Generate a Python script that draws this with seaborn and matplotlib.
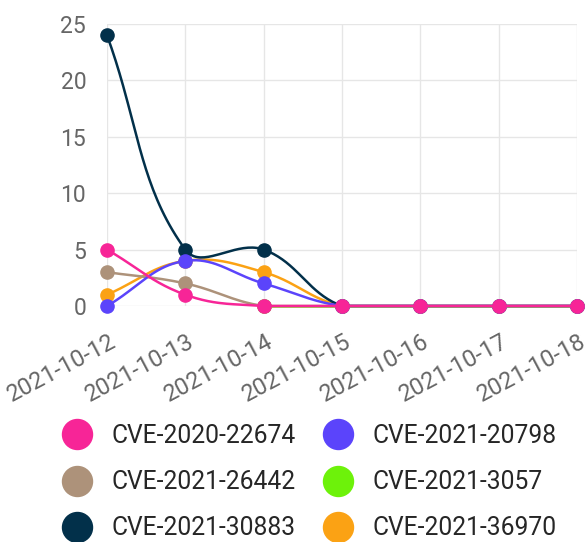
import numpy as np
import pandas as pd
import matplotlib
matplotlib.use("Agg")
import matplotlib.pyplot as plt
import matplotlib.transforms as mtransforms
from matplotlib.lines import Line2D
import seaborn as sns

dates = ["2021-10-12", "2021-10-13", "2021-10-14", "2021-10-15",
         "2021-10-16", "2021-10-17", "2021-10-18"]

nan = np.nan
cve_2020_22674 = [5, 1, 0, 0, 0, 0, 0]
cve_2021_20798 = [0, 4, 2, 0, 0, 0, 0]
cve_2021_26442 = [3, 2, 0, 0, 0, 0, 0]
cve_2021_3057 = [nan, nan, 0, 0, 0, 0, 0]
cve_2021_30883 = [24, 5, 5, 0, 0, 0, 0]
cve_2021_36970 = [1, 4, 3, 0, 0, 0, 0]

names = ["CVE-2020-22674", "CVE-2021-20798", "CVE-2021-26442",
         "CVE-2021-3057", "CVE-2021-30883", "CVE-2021-36970"]
values = [cve_2020_22674, cve_2021_20798, cve_2021_26442,
          cve_2021_3057, cve_2021_30883, cve_2021_36970]
colors = ["#f72597", "#5b44fb", "#ad927a", "#6df20a", "#02304a", "#fba214"]

y_ticks = [0, 5, 10, 15, 20, 25]


def spline(xs, ys, sx, sy, xmax, ymax, tension=0.4, steps=40):
    # bezier curve through the points, control points worked out in pixel space
    n = len(ys)
    px = np.asarray(xs, dtype=float) * sx
    py = np.asarray(ys, dtype=float) * sy
    before, after = [], []
    for i in range(n):
        p, q = max(i - 1, 0), min(i + 1, n - 1)
        d01 = np.hypot(px[i] - px[p], py[i] - py[p])
        d12 = np.hypot(px[q] - px[i], py[q] - py[i])
        tot = d01 + d12
        fa = tension * (d01 / tot if tot else 0)
        fb = tension * (d12 / tot if tot else 0)
        dx, dy = px[q] - px[p], py[q] - py[p]
        c0 = [px[i] - fa * dx, py[i] - fa * dy]
        c1 = [px[i] + fb * dx, py[i] + fb * dy]
        for c in (c0, c1):
            c[0] = min(max(c[0], 0), xmax * sx)
            c[1] = min(max(c[1], 0), ymax * sy)
        before.append(c0)
        after.append(c1)
    t = np.linspace(0, 1, steps)[:, None]
    out = []
    for i in range(n - 1):
        p0 = np.array([px[i], py[i]])
        p3 = np.array([px[i + 1], py[i + 1]])
        p1 = np.array(after[i])
        p2 = np.array(before[i + 1])
        seg = ((1 - t) ** 3) * p0 + 3 * ((1 - t) ** 2) * t * p1 \
            + 3 * (1 - t) * t ** 2 * p2 + t ** 3 * p3
        out.append(seg)
    out = np.vstack(out)
    return out[:, 0] / sx, out[:, 1] / sy


sns.set_style("white")
plt.rcParams["font.family"] = ["Roboto", "DejaVu Sans"]

fig = plt.figure(figsize=(5.87, 5.42), dpi=100)
ax = fig.add_axes([107 / 587, 1 - 306 / 542, 470 / 587, 282 / 542])

x_pos = np.arange(len(dates))
px_per_day = 470 / 6
px_per_unit = 282 / 25

# first dataset ends up on top
for k in range(len(names) - 1, -1, -1):
    v = np.asarray(values[k], dtype=float)
    ok = ~np.isnan(v)
    cx, cy = spline(x_pos[ok], v[ok], px_per_day, px_per_unit, 6, 25)
    sns.lineplot(x=cx, y=cy, sort=False, estimator=None, color=colors[k],
                 lw=1.8, ax=ax, clip_on=False, zorder=3 + 2 * (5 - k))
    sns.scatterplot(x=x_pos[ok], y=v[ok], color=colors[k], s=90,
                    edgecolor=colors[k], linewidth=1, ax=ax, clip_on=False,
                    zorder=4 + 2 * (5 - k))

ax.set_xlim(0, 6)
ax.set_ylim(0, 25)
ax.set_xticks(x_pos)
ax.set_xticklabels(dates)
ax.set_yticks(y_ticks)
ax.set_yticklabels([str(v) for v in y_ticks])
ax.set_xlabel("")
ax.set_ylabel("")
for s in ax.spines.values():
    s.set_visible(False)
ax.grid(True, color="#e6e6e6", lw=1)
ax.tick_params(axis="y", length=10, width=1, color="#e6e6e6", pad=5,
               labelsize=16.5, labelcolor="#666666")
ax.tick_params(axis="x", length=8.6, width=1, color="#e6e6e6", pad=9,
               labelsize=17, labelcolor="#666666")

shift = mtransforms.ScaledTranslation(2 / 100, 0, fig.dpi_scale_trans)
for lab in ax.get_xticklabels():
    lab.set_rotation(28)
    lab.set_ha("right")
    lab.set_va("top")
    lab.set_rotation_mode("anchor")
    lab.set_transform(lab.get_transform() + shift)

# legend is filled column by column
order = [0, 2, 4, 1, 3, 5]
handles = [Line2D([], [], ls="none", marker="o", markersize=21.6,
                  color=colors[i], markeredgecolor=colors[i]) for i in order]
fig.legend(handles, [names[i] for i in order], ncol=2, frameon=False,
           loc="upper left", bbox_to_anchor=(0.1097, 0.2177), borderpad=0,
           fontsize=17.7, handlelength=1.0, handletextpad=0.92,
           columnspacing=1.2, labelspacing=0.9, borderaxespad=0)

fig.savefig("out.png", dpi=100)
